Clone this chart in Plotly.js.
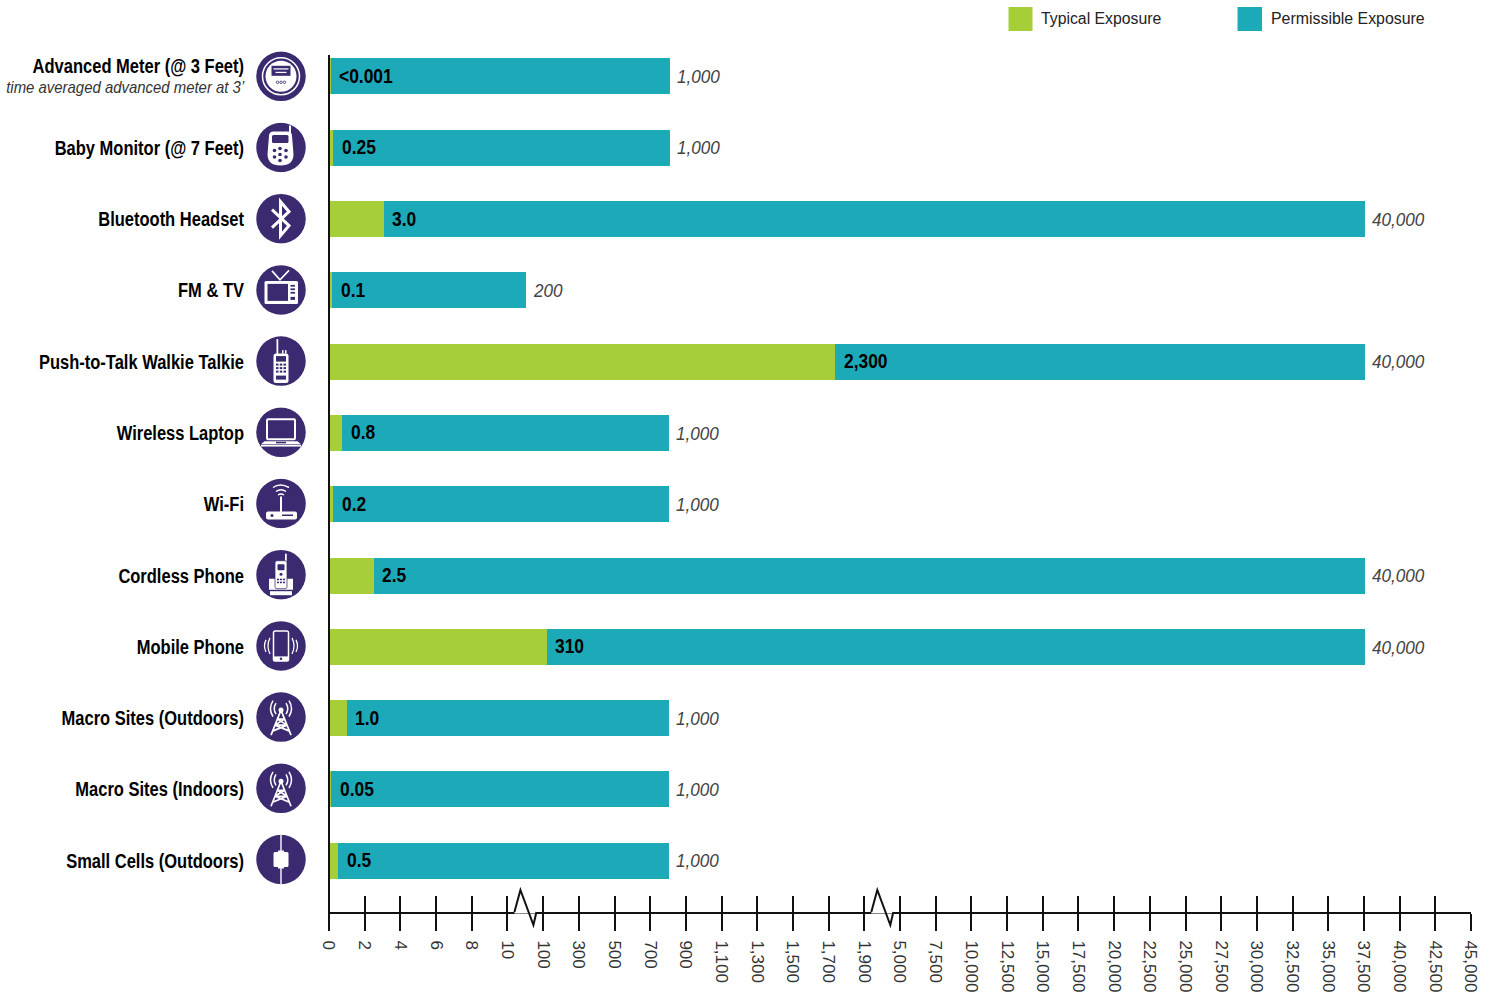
<!DOCTYPE html>
<html><head><meta charset="utf-8">
<script src="https://cdn.plot.ly/plotly-3.0.1.min.js"></script>
<style>html,body{margin:0;padding:0;background:#fff}#c{width:1497px;height:992px}</style>
</head><body><div id="c"></div>
<script>
const categories = ["Advanced Meter (@ 3 Feet)","Baby Monitor (@ 7 Feet)","Bluetooth Headset","FM & TV","Push-to-Talk Walkie Talkie","Wireless Laptop","Wi-Fi","Cordless Phone","Mobile Phone","Macro Sites (Outdoors)","Macro Sites (Indoors)","Small Cells (Outdoors)"];
const subNote = "time averaged advanced meter at 3’";
const typicalLabels = ["<0.001","0.25","3.0","0.1","2,300","0.8","0.2","2.5","310","1.0","0.05","0.5"];
const permissibleLabels = ["1,000","1,000","40,000","200","40,000","1,000","1,000","40,000","40,000","1,000","1,000","1,000"];
// bar ends as drawn, read against the printed (broken) scale
const typicalRead = [0.11,0.25,3.06,0.18,1736,0.74,0.25,2.5,120,1.0,0.12,0.52];
const permissibleRead = [810,810,37600,57,37600,804,804,37600,37600,804,804,804];
const tickValues = [0,2,4,6,8,10,100,300,500,700,900,1100,1300,1500,1700,1900,5000,7500,10000,12500,15000,17500,20000,22500,25000,27500,30000,32500,35000,37500,40000,42500,45000];

const GREEN="#a6ce39", TEAL="#1caab9", PURPLE="#3b2a70";
const FONT_B="'Liberation Sans',sans-serif", FONT_L="'Liberation Sans',sans-serif";

function toSlot(v){
  for(let i=1;i<tickValues.length;i++){
    if(v<=tickValues[i]) return (i-1)+(v-tickValues[i-1])/(tickValues[i]-tickValues[i-1]);
  }
  return tickValues.length-1;
}
const slots=tickValues.map((_,i)=>i);
const rows=categories.map((_,i)=>i);

const W="#fff";
const glyphs=[
 `<circle cx="50" cy="50" r="37" fill="none" stroke="${W}" stroke-width="3"/><circle cx="50" cy="50" r="31" fill="${W}"/><rect x="31" y="29" width="38" height="20" fill="${PURPLE}"/><rect x="35" y="34" width="30" height="2.5" fill="${W}"/><rect x="39" y="41" width="22" height="2.5" fill="${W}"/><circle cx="43" cy="62" r="2.5" fill="none" stroke="${PURPLE}" stroke-width="1.6"/><circle cx="50" cy="62" r="2.5" fill="none" stroke="${PURPLE}" stroke-width="1.6"/><circle cx="57" cy="62" r="2.5" fill="none" stroke="${PURPLE}" stroke-width="1.6"/>`,
 `<rect x="66" y="6" width="4" height="18" fill="${W}"/><path d="M33 18 h30 q9 0 9 9 l3 36 q0 23 -26 23 q-26 0 -26 -23 l3 -36 q0 -9 9 -9z" fill="${W}"/><rect x="32" y="25" width="33" height="16" rx="3" fill="${PURPLE}"/><g fill="${PURPLE}"><circle cx="48" cy="52" r="3.6"/><circle cx="37" cy="56" r="3.6"/><circle cx="60" cy="56" r="3.6"/><circle cx="48" cy="64" r="3.6"/><circle cx="37" cy="69" r="3.6"/><circle cx="60" cy="69" r="3.6"/><circle cx="48" cy="76" r="3.6"/></g>`,
 `<path d="M32 32 L66 64 L49 84 V16 L66 36 L32 68" fill="none" stroke="${W}" stroke-width="6"/>`,
 `<path d="M32 12 L48 30 L66 11" fill="none" stroke="${W}" stroke-width="3.2"/><rect x="17" y="32" width="67" height="46" rx="3" fill="${W}"/><rect x="23" y="38" width="41" height="34" fill="${PURPLE}"/><g fill="${PURPLE}"><rect x="69" y="40" width="9" height="3.5"/><rect x="69" y="47" width="9" height="3.5"/><rect x="69" y="54" width="9" height="3.5"/><rect x="69" y="64" width="9" height="6"/></g>`,
 `<rect x="41" y="6" width="3.5" height="32" fill="${W}"/><rect x="52" y="28" width="3" height="7" fill="${W}"/><rect x="58" y="28" width="3" height="7" fill="${W}"/><rect x="35" y="35" width="30" height="59" rx="5" fill="${W}"/><rect x="40" y="40" width="20" height="11" fill="${PURPLE}"/><g fill="${PURPLE}"><rect x="40" y="55" width="5" height="4"/><rect x="47.5" y="55" width="5" height="4"/><rect x="55" y="55" width="5" height="4"/><rect x="40" y="62" width="5" height="4"/><rect x="47.5" y="62" width="5" height="4"/><rect x="55" y="62" width="5" height="4"/><rect x="40" y="69" width="5" height="4"/><rect x="47.5" y="69" width="5" height="4"/><rect x="55" y="69" width="5" height="4"/><rect x="40" y="79" width="20" height="8"/></g>`,
 `<rect x="22" y="24" width="56" height="40" rx="2" fill="none" stroke="${W}" stroke-width="4"/><path d="M17 68 H83 L90 74 H10z" fill="${W}"/><rect x="10" y="75" width="80" height="3.5" fill="${W}"/><rect x="40" y="69" width="20" height="3" fill="${PURPLE}"/>`,
 `<path d="M34 18 Q48 8 66 18 M40 26 Q50 19 60 26 M44 33 Q50 29 56 33" fill="none" stroke="${W}" stroke-width="3"/><rect x="48" y="36" width="4" height="32" fill="${W}"/><rect x="20" y="66" width="62" height="16" rx="4" fill="${W}"/><circle cx="32" cy="74" r="3" fill="${PURPLE}"/><rect x="52" y="72" width="22" height="3" fill="${PURPLE}"/>`,
 `<rect x="58" y="8" width="3.5" height="20" fill="${W}"/><path d="M36 58 H26 V80 H74 V58 H64z" fill="${W}"/><rect x="28" y="83" width="44" height="8" fill="${W}"/><rect x="38" y="22" width="24" height="56" rx="4" fill="${W}" stroke="${PURPLE}" stroke-width="1.5"/><rect x="43" y="29" width="14" height="12" rx="2" fill="${PURPLE}"/><circle cx="50" cy="49" r="3" fill="${PURPLE}"/><g fill="${PURPLE}"><rect x="42" y="58" width="4" height="3"/><rect x="48" y="58" width="4" height="3"/><rect x="54" y="58" width="4" height="3"/><rect x="42" y="64" width="4" height="3"/><rect x="48" y="64" width="4" height="3"/><rect x="54" y="64" width="4" height="3"/></g>`,
 `<rect x="35" y="20" width="30" height="60" rx="3.5" fill="${PURPLE}" stroke="${W}" stroke-width="3"/><rect x="35" y="71" width="30" height="9" fill="${W}"/><circle cx="50" cy="75.5" r="2.5" fill="${PURPLE}"/><path d="M28 34 Q20 50 28 66 M20 38 Q14 50 20 62 M72 34 Q80 50 72 66 M80 38 Q86 50 80 62" fill="none" stroke="${W}" stroke-width="2.5"/>`,
 null,null,
 `<rect x="48.6" y="0" width="2.8" height="100" fill="${W}"/><path d="M44 32 V35 H38 Q35 35 35 38 V62 Q35 65 38 65 H44 V68 H56 V65 H62 Q65 65 65 62 V38 Q65 35 62 35 H56 V32z" fill="${W}"/>`
];
const tower=`<circle cx="50" cy="36" r="5" fill="${W}"/><path d="M50 36 L30 86 M50 36 L70 86 M43 54 H57 M38 66 H62 M33 78 L62 66 M67 78 L38 66 M43 54 L62 66 M57 54 L38 66" fill="none" stroke="${W}" stroke-width="3.4"/><path d="M40 44 Q33 33 40 22 M60 44 Q67 33 60 22 M34 49 Q24 33 34 17 M66 49 Q76 33 66 17" fill="none" stroke="${W}" stroke-width="3"/>`;
glyphs[9]=tower; glyphs[10]=tower;

function icon(g){
  const svg=`<svg xmlns="http://www.w3.org/2000/svg" viewBox="0 0 100 100" width="200" height="200"><circle cx="50" cy="50" r="49.5" fill="${PURPLE}"/>${g}</svg>`;
  return "data:image/svg+xml;charset=utf-8,"+encodeURIComponent(svg);
}

const plotL=329, plotR=1471, plotT=55, plotB=912;
const xPx=(plotR-plotL)/32, yPx=71.3;
const yRange=[11+(plotB-860.7)/yPx, -(76.4-plotT)/yPx];
const pX=p=>(p-plotL)/(plotR-plotL), pY=p=>(plotB-p)/(plotB-plotT);

const traces=[
 {type:"bar",orientation:"h",name:"Permissible Exposure",y:rows,x:permissibleRead.map(toSlot),width:0.505,marker:{color:TEAL,line:{width:0}},hoverinfo:"skip"},
 {type:"bar",orientation:"h",name:"Typical Exposure",y:rows,x:typicalRead.map(toSlot),width:0.505,marker:{color:GREEN,line:{width:0}},hoverinfo:"skip"},
 {type:"scatter",mode:"lines",x:[0,32],y:[yRange[0],yRange[0]],xaxis:"x2",yaxis:"y",showlegend:false,line:{width:0},hoverinfo:"skip"}
];

const annotations=[];
rows.forEach(i=>{
  annotations.push({x:toSlot(typicalRead[i]),y:i,text:typicalLabels[i].replace("<","&lt;"),xref:"x",yref:"y",xanchor:"left",align:"left",yanchor:"middle",xshift:8.5,yshift:0.5,showarrow:false,
    font:{family:FONT_B,size:20,color:"#000",weight:700},borderpad:0,borderwidth:0,name:"val"});
  annotations.push({x:toSlot(permissibleRead[i]),y:i,text:"<i>"+permissibleLabels[i]+"</i>",xref:"x",yref:"y",xanchor:"left",align:"left",yanchor:"middle",xshift:7,yshift:-0.7,showarrow:false,
    font:{family:FONT_L,size:18,color:"#444"},borderpad:0,borderwidth:0,name:"end"});
});
annotations.push({xref:"paper",yref:"paper",x:pX(244.5),y:pY(87.5),xanchor:"right",align:"right",yanchor:"middle",showarrow:false,borderpad:0,
  text:"<i>"+subNote+"</i>",font:{family:FONT_L,size:17,color:"#333"},name:"sub"});
annotations.push({xref:"paper",yref:"paper",x:pX(1040),y:pY(18.5),xanchor:"left",align:"left",yanchor:"middle",showarrow:false,borderpad:0,text:"Typical Exposure",font:{family:FONT_L,size:15.8,color:"#222"}});
annotations.push({xref:"paper",yref:"paper",x:pX(1270),y:pY(18.5),xanchor:"left",align:"left",yanchor:"middle",showarrow:false,borderpad:0,text:"Permissible Exposure",font:{family:FONT_L,size:15.9,color:"#222"}});

const shapes=[
 {type:"rect",xref:"paper",yref:"paper",x0:pX(1008.5),x1:pX(1032.5),y0:pY(31),y1:pY(7),fillcolor:GREEN,line:{width:0}},
 {type:"rect",xref:"paper",yref:"paper",x0:pX(1237.5),x1:pX(1262),y0:pY(31),y1:pY(7),fillcolor:TEAL,line:{width:0}},
 {type:"line",xref:"paper",yref:"paper",x0:0,x1:0,y0:pY(930),y1:1,line:{color:"#111",width:2}},
];
[5,15].forEach(s=>{
  const a=plotL+s*xPx, y0=plotB;
  const pts=[[a+7,y0],[a+13,y0-22],[a+26,y0+13],[a+29,y0]];
  shapes.push({type:"line",xref:"paper",yref:"paper",x0:pX(a+7),x1:pX(a+29),y0:0,y1:0,line:{color:"#fff",width:3}});
  shapes.push({type:"path",xref:"paper",yref:"paper",line:{color:"#111",width:2},
    path:"M"+pts.map(p=>pX(p[0])+","+pY(p[1])).join(" L")});
});

const images=glyphs.map((g,i)=>({source:icon(g),xref:"paper",yref:"paper",x:pX(281),y:pY(76.3+i*71.2),sizex:50/(plotR-plotL),sizey:50/(plotB-plotT),xanchor:"center",yanchor:"middle",sizing:"stretch",layer:"above"}));

const layout={
 width:1497,height:992,paper_bgcolor:"#fff",plot_bgcolor:"#fff",
 margin:{l:plotL,r:1497-plotR,t:plotT,b:992-plotB,pad:0},
 barmode:"overlay",bargap:0,showlegend:false,
 font:{family:FONT_L,color:"#111"},
 xaxis:{type:"linear",range:[0,32],tickmode:"array",tickvals:slots,ticktext:tickValues.map(v=>v.toLocaleString("en-US")),
   tickangle:90,ticks:"outside",ticklen:17,tickwidth:2,tickcolor:"#111",showline:true,linecolor:"#111",linewidth:2,
   showgrid:false,zeroline:false,tickfont:{family:FONT_L,size:17,color:"#333"},automargin:false,ticklabelstandoff:6},
 xaxis2:{type:"linear",range:[0,32],overlaying:"x",anchor:"y",side:"bottom",tickmode:"array",tickvals:slots,ticktext:slots.map(()=> ""),
   ticks:"inside",ticklen:16,tickwidth:2,tickcolor:"#111",showline:false,showgrid:false,zeroline:false,showticklabels:false},
 yaxis:{type:"linear",range:yRange,tickmode:"array",tickvals:rows.map(i=>i===0?-10.5/yPx:i),ticktext:categories,
   ticks:"",showline:false,showgrid:false,zeroline:false,tickfont:{family:FONT_B,size:20,color:"#000",weight:700},ticklabelstandoff:84,automargin:false},
 annotations,shapes,images
};

// no condensed face is installed: narrow the real text elements to the reference's condensed widths
function squeeze(el,ratio,target){
  const len=el.getComputedTextLength();
  el.setAttribute("textLength",target||len*ratio);
  el.setAttribute("lengthAdjust","spacingAndGlyphs");
}
Plotly.newPlot("c",traces,layout,{displayModeBar:false,staticPlot:true}).then(gd=>{
  gd.querySelectorAll(".ytick text").forEach(t=>squeeze(t,0.825));
  gd.querySelectorAll(".annotation").forEach((a,i)=>{
    const t=a.querySelector("text"); if(!t) return;
    const spec=layout.annotations[i];
    if(spec.name==="val") squeeze(t,0.87);
    else if(spec.name==="end") squeeze(t,0.95);
    else if(spec.name==="sub") squeeze(t,1,238);
  });
});
</script></body></html>
